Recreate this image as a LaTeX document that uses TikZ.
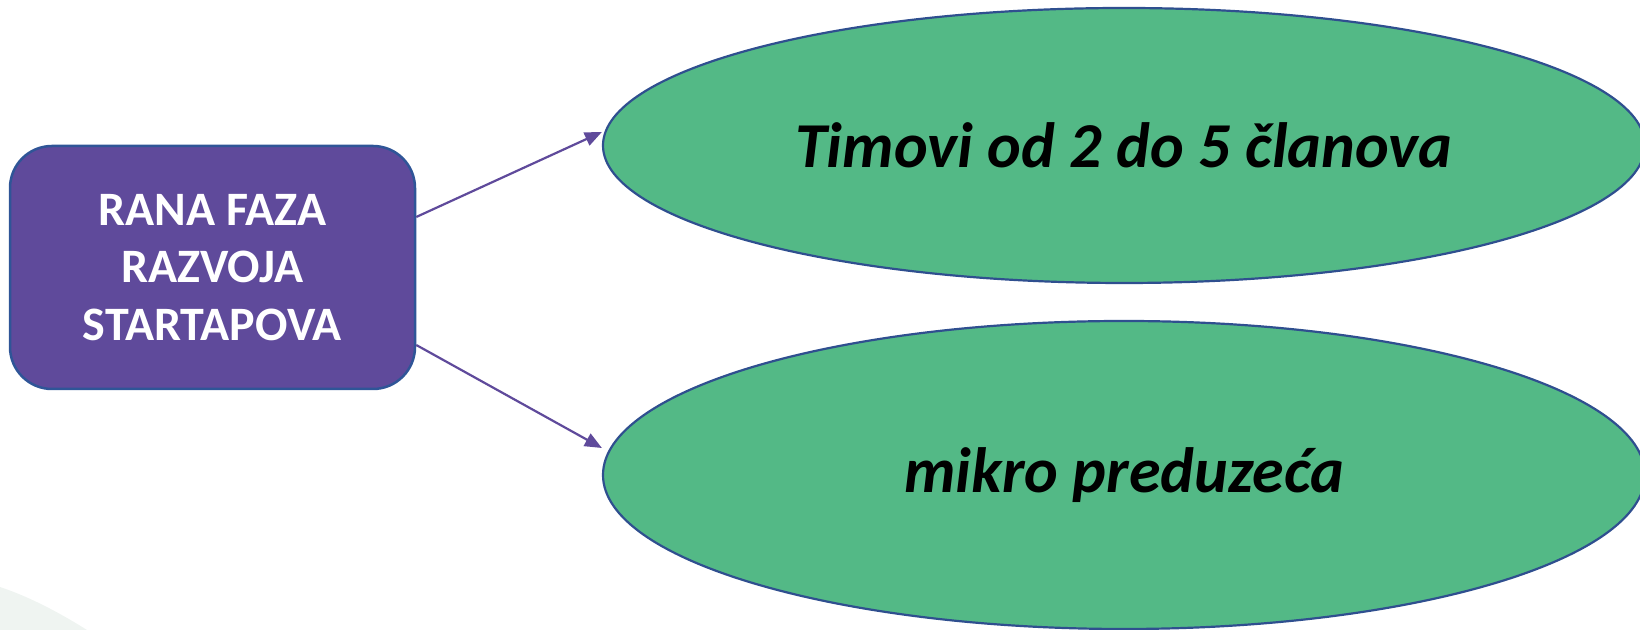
\documentclass[tikz,border=0pt]{standalone}
\usepackage{fontspec}
\setmainfont{Carlito}
\usepackage{tikz}
\usetikzlibrary{calc, arrows.meta, shapes.geometric, positioning}
\definecolor{fazapurple}{HTML}{5F4A9B}
\definecolor{fazaedge}{HTML}{2F5597}
\definecolor{ovalgreen}{HTML}{53B986}
\definecolor{ovaledge}{HTML}{2F4F8F}
\definecolor{ghostgrey}{HTML}{EFF4F1}
\tikzset{
  fazabox/.style={draw=fazaedge, line width=1.25pt, fill=fazapurple, rounded corners=21pt,
    minimum width=202.5pt, minimum height=121.5pt, align=center, text=white,
    font=\fontsize{24}{28.75}\selectfont\bfseries},
  oval/.style={ellipse, draw=ovaledge, line width=1.1pt, fill=ovalgreen, minimum width=521pt,
    font=\fontsize{32}{40}\selectfont\bfseries\itshape},
  link/.style={draw=fazapurple, line width=1.1pt, -{Triangle[length=8.5pt, width=7pt]}}
}
\begin{document}
\begin{tikzpicture}[x=.5pt, y=.5pt]
        \useasboundingbox (0,0) rectangle (1640,630);
        \fill[ghostgrey] (0,0) -- (0,43) .. controls (30,33) and (60,17) .. (87,0) -- cycle;
        \node[fazabox] (faza) at (212.5, 362.5) {RANA FAZA\\RAZVOJA\\STARTAPOVA};
        \node[oval, minimum height=137.5pt] (timovi) at (1124, 484.5) {Timovi od 2 do 5 članova};
        \node[oval, minimum height=154pt] (mikro) at (1124, 155) {mikro preduzeća};
        \draw[link] ([yshift=25.25pt]faza.east) -- ([yshift=6.75pt]timovi.west);
        \draw[link] ([yshift=-38.75pt]faza.east) -- ([yshift=13.5pt]mikro.west);
      \end{tikzpicture}
\end{document}
